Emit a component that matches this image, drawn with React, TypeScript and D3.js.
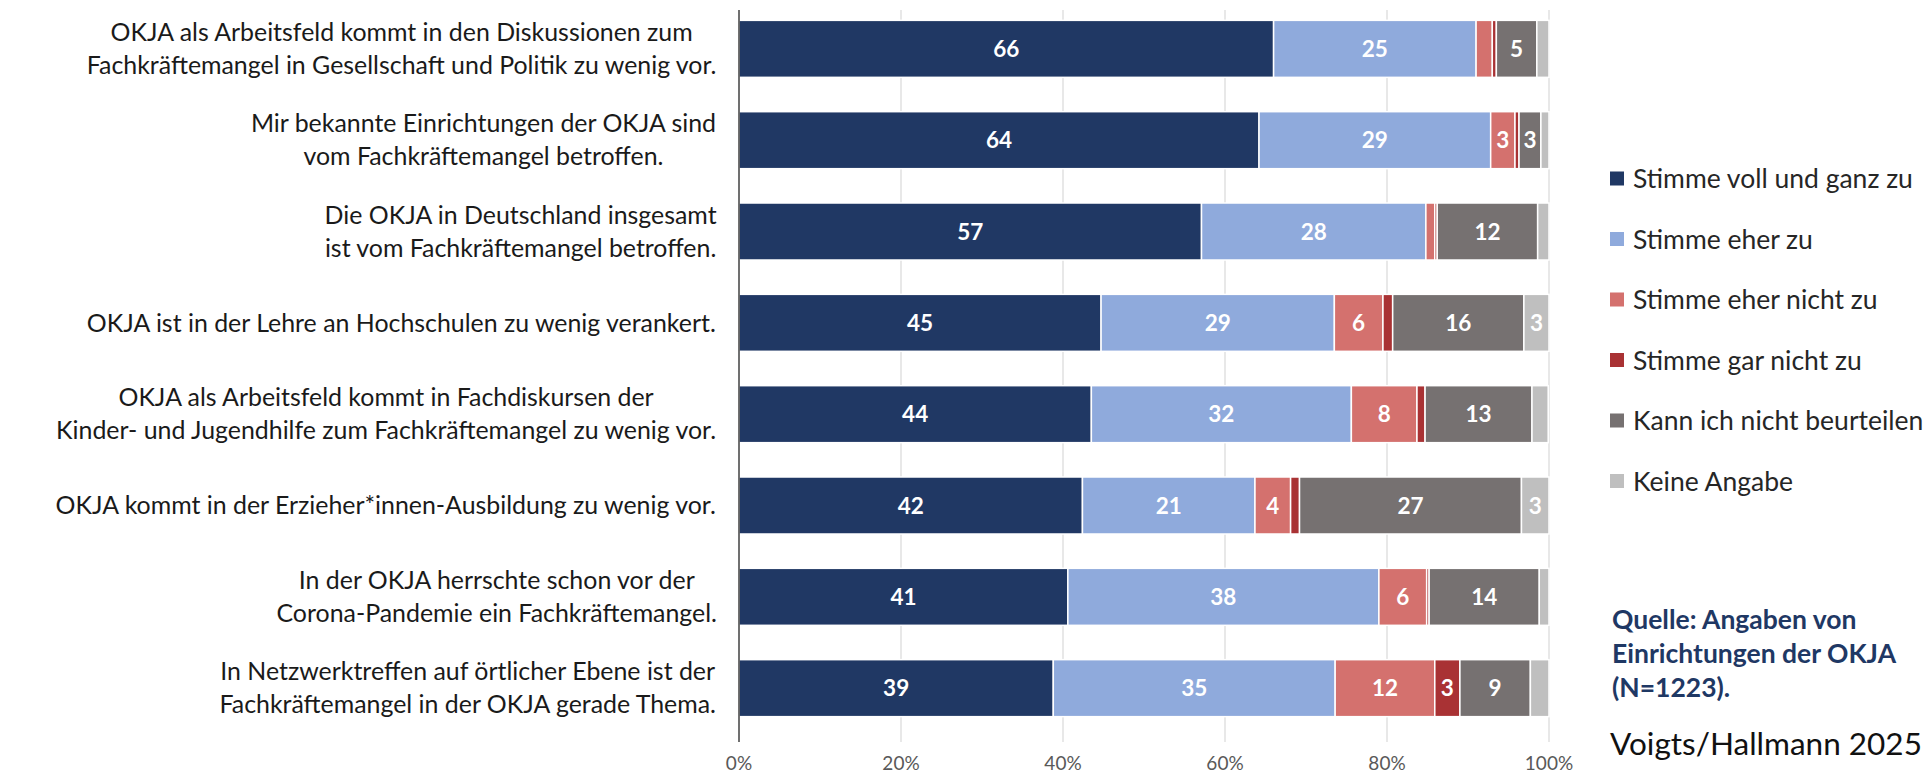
import React from "react";
import * as d3 from "d3";

const categories: string[][] = [
  ["OKJA als Arbeitsfeld kommt in den Diskussionen zum", "Fachkräftemangel in Gesellschaft und Politik zu wenig vor."],
  ["Mir bekannte Einrichtungen der OKJA sind", "vom Fachkräftemangel betroffen."],
  ["Die OKJA in Deutschland insgesamt", "ist vom Fachkräftemangel betroffen."],
  ["OKJA ist in der Lehre an Hochschulen zu wenig verankert."],
  ["OKJA als Arbeitsfeld kommt in Fachdiskursen der", "Kinder- und Jugendhilfe zum Fachkräftemangel zu wenig vor."],
  ["OKJA kommt in der Erzieher*innen-Ausbildung zu wenig vor."],
  ["In der OKJA herrschte schon vor der", "Corona-Pandemie ein Fachkräftemangel."],
  ["In Netzwerktreffen auf örtlicher Ebene ist der", "Fachkräftemangel in der OKJA gerade Thema."],
];

const seriesNames = [
  "Stimme voll und ganz zu",
  "Stimme eher zu",
  "Stimme eher nicht zu",
  "Stimme gar nicht zu",
  "Kann ich nicht beurteilen",
  "Keine Angabe",
];

const vollUndGanz = [66, 64.2, 57.1, 44.7, 43.5, 42.4, 40.6, 38.8];
const eherZu = [25, 28.6, 27.7, 28.8, 32.1, 21.3, 38.4, 34.8];
const eherNicht = [2, 3, 1.1, 6, 8.1, 4.4, 5.9, 12.3];
const garNicht = [0.5, 0.5, 0.3, 1.2, 1.0, 1.1, 0.3, 3.1];
const kannNicht = [5, 2.7, 12.4, 16.2, 13.2, 27.4, 13.6, 8.7];
const keineAngabe = [1.5, 1.0, 1.4, 3.1, 2.0, 3.4, 1.2, 2.3];

const seriesValues = [vollUndGanz, eherZu, eherNicht, garNicht, kannNicht, keineAngabe];
const colors = ["#203864", "#8faadc", "#d4716e", "#a93234", "#767171", "#bfbfbf"];

const xTicks = [0, 20, 40, 60, 80, 100];
const sourceLines = ["Quelle: Angaben von", "Einrichtungen der OKJA", "(N=1223)."];
const credit = "Voigts/Hallmann 2025";

const W = 1932;
const H = 774;
const FONT = "Lato, 'Open Sans', sans-serif";

let ctx: CanvasRenderingContext2D | null = null;
function measure(text: string, font: string): number {
  if (!ctx) ctx = document.createElement("canvas").getContext("2d");
  if (!ctx) return text.length * 10;
  ctx.font = font;
  return ctx.measureText(text).width;
}

export default function App() {
  const x = d3.scaleLinear().domain([0, 100]).range([739, 1549]);
  const rowIds = categories.map((_, i) => String(i));
  const y = d3.scaleBand().domain(rowIds).range([3, 734]).paddingInner(0.376).paddingOuter(0.19);

  const rows = categories.map((_, i) => {
    const r: Record<string, number> = {};
    seriesNames.forEach((s, k) => (r[s] = seriesValues[k][i]));
    return r;
  });
  const stacked = d3.stack<Record<string, number>>().keys(seriesNames)(rows);

  const labelFontSize = 24.9;
  const labelFont = `${labelFontSize}px Lato`;
  const labelRight = 717;
  const lineGap = 33;

  const gridTop = 10;
  const gridBottom = 742;

  return (
    <svg width={W} height={H} style={{ position: "absolute", left: 0, top: 0, background: "#fff" }} fontFamily={FONT}>
      <rect x={0} y={0} width={W} height={H} fill="#fff" />
      {xTicks.filter((t) => t > 0).map((t) => (
        <line key={t} x1={x(t)} x2={x(t)} y1={gridTop} y2={gridBottom} stroke="#d9d9d9" strokeWidth={1.2} />
      ))}
      {stacked.map((layer, k) => (
        <g key={layer.key} fill={colors[k]}>
          {layer.map((d, i) => (
            <rect
              key={i}
              x={x(d[0])}
              y={y(String(i))!}
              width={Math.max(0, x(d[1]) - x(d[0]))}
              height={y.bandwidth()}
              stroke="#fff"
              strokeWidth={1.5}
            />
          ))}
        </g>
      ))}
      {stacked.map((layer, k) =>
        layer.map((d, i) => {
          const v = seriesValues[k][i];
          const lbl = Math.round(v);
          if (lbl < 3) return null;
          return (
            <text
              key={`${k}-${i}`}
              x={(x(d[0]) + x(d[1])) / 2}
              y={y(String(i))! + y.bandwidth() / 2}
              dy="0.36em"
              textAnchor="middle"
              fill="#fff"
              fontWeight={700}
              fontSize={22.5}
            >
              {lbl}
            </text>
          );
        })
      )}
      <line x1={x(0)} x2={x(0)} y1={gridTop} y2={gridBottom} stroke="#404040" strokeWidth={1.5} />
      {xTicks.map((t) => (
        <text key={t} x={x(t)} y={763} dy="0.35em" textAnchor="middle" fontSize={19} fill="#595959">
          {t}%
        </text>
      ))}
      {categories.map((lines, i) => {
        const cy = y(String(i))! + y.bandwidth() / 2;
        const maxW = Math.max(...lines.map((l) => measure(l, labelFont)));
        const cx = labelRight - maxW / 2;
        return lines.map((l, j) => (
          <text
            key={`${i}-${j}`}
            x={cx}
            y={cy + (j - (lines.length - 1) / 2) * lineGap}
            dy="0.35em"
            textAnchor="middle"
            fontSize={labelFontSize}
            fill="#1a1a1a"
          >
            {l}
          </text>
        ));
      })}
      {seriesNames.map((s, k) => {
        const ly = 178.5 + k * 60.5;
        return (
          <g key={s}>
            <rect x={1610} y={ly - 7} width={14} height={14} fill={colors[k]} />
            <text x={1633} y={ly} dy="0.36em" fontSize={26.5} fill="#262626">
              {s}
            </text>
          </g>
        );
      })}
      {sourceLines.map((l, j) => (
        <text key={l} x={1612} y={619 + j * 34} dy="0.36em" fontSize={26.5} fontWeight={700} fill="#1f3864">
          {l}
        </text>
      ))}
      <text x={1610} y={744} dy="0.36em" fontSize={31.5} fill="#111">
        {credit}
      </text>
    </svg>
  );
}
